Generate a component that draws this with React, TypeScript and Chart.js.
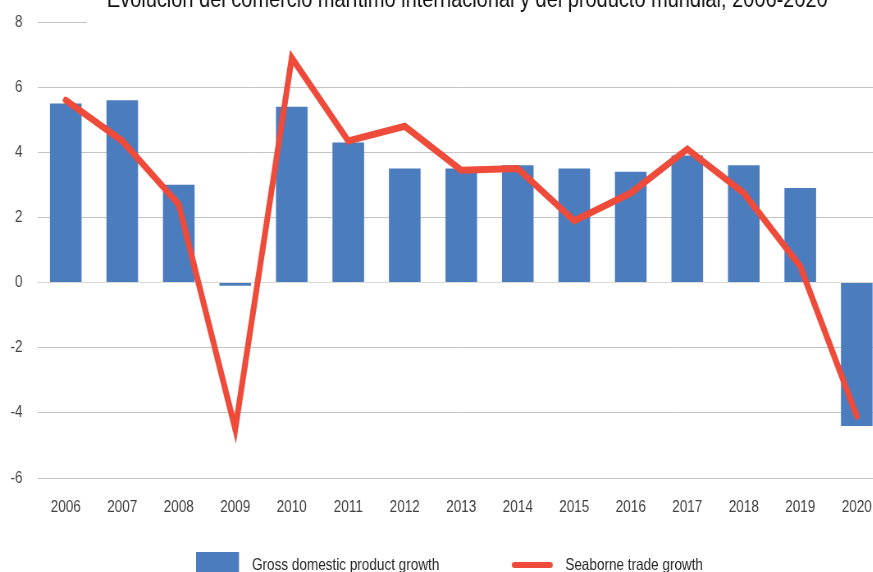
import React, { useEffect, useRef } from "react";
import { Chart, registerables } from "chart.js";

Chart.register(...registerables);

const TITLE = "Evolución del comercio marítimo internacional y del producto mundial, 2006-2020";
const years = ["2006", "2007", "2008", "2009", "2010", "2011", "2012", "2013", "2014", "2015", "2016", "2017", "2018", "2019", "2020"];
const gdpGrowth = [5.5, 5.6, 3.0, -0.1, 5.4, 4.3, 3.5, 3.5, 3.6, 3.5, 3.4, 3.9, 3.6, 2.9, -4.4];
const seaborneGrowth = [5.6, 4.35, 2.4, -4.5, 6.9, 4.35, 4.8, 3.45, 3.5, 1.9, 2.75, 4.1, 2.75, 0.5, -4.1];
const seriesLabels = ["Gross domestic product growth", "Seaborne trade growth"];
const yMin = -6;
const yMax = 8;
const yStep = 2;

// The reference uses a narrow typeface; the canvas is drawn wider and shown
// horizontally condensed so that Arial-metric text renders like Arial Narrow.
const PAGE_W = 899;
const INNER_W = 1096;
const S = PAGE_W / INNER_W;
const H = 572;

const FONT = "'Liberation Sans', Arial, sans-serif";
const FONT_SIZE = 16.5;
const BLUE = "#4B7DBE";
const RED = "#EE4B3B";

const titlePlugin = {
  id: "coverTitle",
  afterDraw(chart: any) {
    const ctx = chart.ctx;
    const { left, right, top } = chart.chartArea;
    ctx.save();
    ctx.font = `20px ${FONT}`;
    const w20 = ctx.measureText(TITLE).width;
    const size = (20 * (721 / S)) / w20;
    ctx.font = `${size}px ${FONT}`;
    const w = ctx.measureText(TITLE).width;
    const cx = (left + right) / 2 + 6 / S;
    ctx.fillStyle = "#ffffff";
    ctx.fillRect(cx - w / 2 - 20 / S, 0, chart.width, top + 2);
    ctx.fillStyle = "#111111";
    ctx.textAlign = "center";
    ctx.textBaseline = "alphabetic";
    ctx.fillText(TITLE, cx, top - 15.5);
    ctx.restore();
  },
};

const legendPlugin = {
  id: "bottomLegend",
  afterDraw(chart: any) {
    const ctx = chart.ctx;
    const ds = chart.data.datasets;
    const bottom = chart.chartArea.bottom;
    ctx.save();
    ctx.font = `${FONT_SIZE}px ${FONT}`;
    const t1 = ctx.measureText(ds[0].label).width;
    const t2 = ctx.measureText(ds[1].label).width;
    const boxW = 43 / S, gap1 = 13 / S, between = 72 / S, lineW = 42 / S, gap2 = 12 / S;
    const total = boxW + gap1 + t1 + between + lineW + gap2 + t2;
    let x = chart.width / 2 - total / 2;
    const boxTop = bottom + 74;
    const baseline = bottom + 92;
    ctx.fillStyle = ds[0].backgroundColor;
    ctx.fillRect(x, boxTop, boxW, 24);
    x += boxW + gap1;
    ctx.fillStyle = "#262626";
    ctx.textBaseline = "alphabetic";
    ctx.textAlign = "left";
    ctx.fillText(ds[0].label, x, baseline);
    x += t1 + between;
    ctx.strokeStyle = ds[1].borderColor;
    ctx.lineWidth = 6;
    ctx.lineCap = "round";
    ctx.beginPath();
    ctx.moveTo(x + 3 / S, bottom + 87);
    ctx.lineTo(x + lineW - 3 / S, bottom + 87);
    ctx.stroke();
    x += lineW + gap2;
    ctx.fillText(ds[1].label, x, baseline);
    ctx.restore();
  },
};

export default function App() {
  const ref = useRef<HTMLCanvasElement | null>(null);
  useEffect(() => {
    document.body.style.margin = "0";
    const canvas = ref.current;
    if (!canvas) return;
    const chart = new Chart(canvas, {
      type: "bar",
      data: {
        labels: years,
        datasets: [
          {
            type: "bar",
            label: seriesLabels[0],
            data: gdpGrowth,
            backgroundColor: BLUE,
            borderWidth: 0,
            order: 1,
            barPercentage: 0.56,
            categoryPercentage: 1,
          } as any,
          {
            type: "line",
            label: seriesLabels[1],
            data: seaborneGrowth,
            borderColor: RED,
            backgroundColor: RED,
            borderWidth: 7,
            borderCapStyle: "round",
            borderJoinStyle: "miter",
            tension: 0,
            pointRadius: 0,
            pointHoverRadius: 0,
            fill: false,
            order: 0,
          } as any,
        ],
      },
      options: {
        responsive: false,
        animation: false,
        events: [],
        devicePixelRatio: 1,
        layout: { padding: { top: 22, right: INNER_W - 885 / S, left: 0, bottom: 49 } },
        plugins: {
          title: { display: false },
          tooltip: { enabled: false },
          legend: { display: false },
        },
        scales: {
          x: {
            grid: { display: false, drawTicks: false },
            border: { display: false },
            ticks: { color: "#404040", font: { family: FONT, size: FONT_SIZE }, padding: 20 },
            afterFit: (s: any) => {
              s.height = 45;
            },
          },
          y: {
            min: yMin,
            max: yMax,
            grid: {
              drawTicks: false,
              color: (c: any) => (c.tick && c.tick.value === 0 ? "#D9D9D9" : "#C4C4C4"),
              lineWidth: 1,
            },
            border: { display: false },
            ticks: { stepSize: yStep, color: "#404040", font: { family: FONT, size: FONT_SIZE }, padding: 15 / S },
            afterFit: (s: any) => {
              s.width = 37.5 / S;
              s.paddingTop = 0;
              s.paddingBottom = 0;
            },
          },
        },
      },
      plugins: [titlePlugin, legendPlugin],
    });
    return () => chart.destroy();
  }, []);
  return (
    <div style={{ width: 873, height: 572, overflow: "hidden", position: "relative", background: "#fff" }}>
      <canvas
        ref={ref}
        width={INNER_W}
        height={H}
        style={{ display: "block", width: PAGE_W, height: H }}
      />
    </div>
  );
}
